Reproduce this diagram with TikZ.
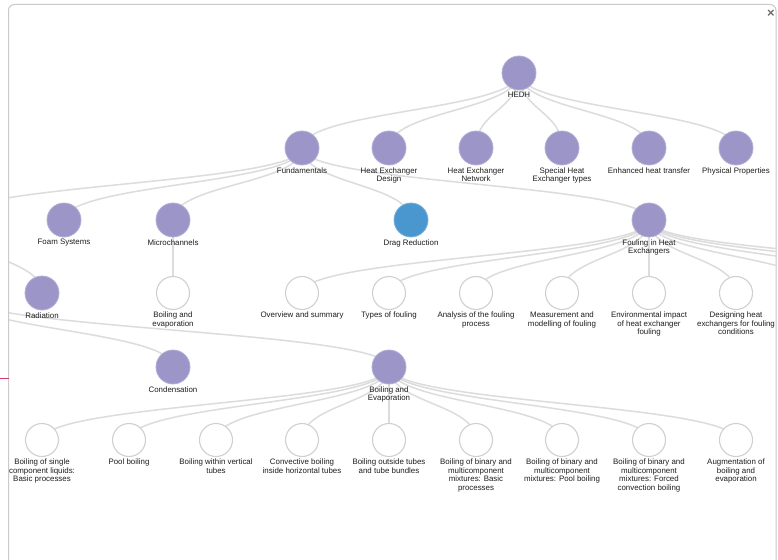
\documentclass[tikz,border=0pt]{standalone}
\usepackage{fontspec}
\setmainfont{Liberation Sans}
\usetikzlibrary{calc,backgrounds}

\definecolor{topicpurple}{HTML}{9B95C8}
\definecolor{dragblue}{HTML}{4A97D0}
\definecolor{linkgray}{HTML}{DCDCDC}
\definecolor{ringgray}{HTML}{D0D0D0}
\definecolor{framegray}{HTML}{C9C9CE}
\definecolor{labeltext}{HTML}{1E1E1E}
\definecolor{edgered}{HTML}{CF3F66}

\tikzset{
  topic/.style={circle, minimum size=34pt, inner sep=0pt, fill=topicpurple, draw=topicpurple!75!white, line width=0.8pt},
  picked/.style={topic, fill=dragblue, draw=dragblue!75!white},
  leaf/.style={circle, minimum size=33pt, inner sep=0pt, fill=white, draw=ringgray, line width=1.1pt},
  lbl/.style={font=\fontsize{7.9}{8.5}\selectfont, text=labeltext, align=center, inner sep=0.5pt},
  link/.style={draw=linkgray, line width=1.5pt,
    to path={let \p1=(\tikztostart), \p2=(\tikztotarget), \p3=($(\tikztostart)!.5!(\tikztotarget)$) in
      .. controls (\x1,\y3) and (\x2,\y3) .. (\tikztotarget)}},
}

\begin{document}
\begin{tikzpicture}[x=1pt, y=-1pt, label distance=1.2pt, every label/.style={lbl}]
\useasboundingbox (0,0) rectangle (778,559);
\clip (0,0) rectangle (778,559);

\draw[framegray, line width=1pt, rounded corners=6pt] (8.5,4.5) rectangle (776,600);
\node[text=gray!85!black, font=\bfseries\fontsize{13}{13}\selectfont, inner sep=0pt] (closex) at (771,14) {×};
\draw[edgered, line width=0.8pt] (0,378.5) -- (8.5,378.5);

\node[topic, label=below:HEDH] (hedh) at (519,73) {};

\node[topic, label=below:Fundamentals] (fund) at (302,148) {};
\node[topic, label={below:{Heat Exchanger\\Design}}] (hxdesign) at (389,148) {};
\node[topic, label={below:{Heat Exchanger\\Network}}] (hxnetwork) at (476,148) {};
\node[topic, label={below:{Special Heat\\Exchanger types}}] (special) at (562,148) {};
\node[topic, label=below:Enhanced heat transfer] (enhanced) at (649,148) {};
\node[topic, label=below:Physical Properties] (physprop) at (736,148) {};

\coordinate (hiddenfund) at (-52,220);
\node[topic, label=below:Foam Systems] (foam) at (64,220) {};
\node[topic, label=below:Microchannels] (micro) at (173,220) {};
\node[picked, label=below:Drag Reduction] (drag) at (411,220) {};
\node[topic, label={below:{Fouling in Heat\\Exchangers}}] (fouling) at (649,220) {};

\coordinate (hiddenrad) at (-45,293);
\node[topic, label=below:Radiation] (radiation) at (42,293) {};
\node[leaf, label={below:{Boiling and\\evaporation}}] (microboil) at (173,293) {};
\node[leaf, label=below:Overview and summary] (overview) at (302,293) {};
\node[leaf, label=below:Types of fouling] (types) at (389,293) {};
\node[leaf, label={below:{Analysis of the fouling\\process}}] (analysis) at (476,293) {};
\node[leaf, label={below:{Measurement and\\modelling of fouling}}] (measure) at (562,293) {};
\node[leaf, label={below:{Environmental impact\\of heat exchanger\\fouling}}] (environ) at (649,293) {};
\node[leaf, label={below:{Designing heat\\exchangers for fouling\\conditions}}] (designing) at (736,293) {};
\coordinate (foulmore1) at (823,293);
\coordinate (foulmore2) at (910,293);
\coordinate (foulmore3) at (996,293);
\coordinate (foulmore4) at (1083,293);

\node[topic, label=below:Condensation] (condens) at (173,367) {};
\node[topic, label={below:{Boiling and\\Evaporation}}] (boilevap) at (389,367) {};

\node[leaf, label={below:{Boiling of single\\component liquids:\\Basic processes}}] (single) at (42,440) {};
\node[leaf, label=below:Pool boiling] (pool) at (129,440) {};
\node[leaf, label={below:{Boiling within vertical\\tubes}}] (vertical) at (216,440) {};
\node[leaf, label={below:{Convective boiling\\inside horizontal tubes}}] (horizontal) at (302,440) {};
\node[leaf, label={below:{Boiling outside tubes\\and tube bundles}}] (outside) at (389,440) {};
\node[leaf, label={below:{Boiling of binary and\\multicomponent\\mixtures: Basic\\processes}}] (binbasic) at (476,440) {};
\node[leaf, label={below:{Boiling of binary and\\multicomponent\\mixtures: Pool boiling}}] (binpool) at (562,440) {};
\node[leaf, label={below:{Boiling of binary and\\multicomponent\\mixtures: Forced\\convection boiling}}] (binforced) at (649,440) {};
\node[leaf, label={below:{Augmentation of\\boiling and\\evaporation}}] (augment) at (736,440) {};

\begin{scope}[on background layer]
\fill[white] (0,0) rectangle (778,559);
\clip (9,5) rectangle (775.5,559);
\draw[link] (hedh.center) to (fund.center);
\draw[link] (hedh.center) to (hxdesign.center);
\draw[link] (hedh.center) to (hxnetwork.center);
\draw[link] (hedh.center) to (special.center);
\draw[link] (hedh.center) to (enhanced.center);
\draw[link] (hedh.center) to (physprop.center);
\draw[link] (fund.center) to (hiddenfund);
\draw[link] (fund.center) to (foam.center);
\draw[link] (fund.center) to (micro.center);
\draw[link] (fund.center) to (drag.center);
\draw[link] (fund.center) to (fouling.center);
\draw[link] (hiddenfund) to (radiation.center);
\draw[link] (hiddenfund) to (hiddenrad);
\draw[link] (micro.center) to (microboil.center);
\draw[link] (fouling.center) to (overview.center);
\draw[link] (fouling.center) to (types.center);
\draw[link] (fouling.center) to (analysis.center);
\draw[link] (fouling.center) to (measure.center);
\draw[link] (fouling.center) to (environ.center);
\draw[link] (fouling.center) to (designing.center);
\draw[link] (fouling.center) to (foulmore1);
\draw[link] (fouling.center) to (foulmore2);
\draw[link] (fouling.center) to (foulmore3);
\draw[link] (fouling.center) to (foulmore4);
\draw[link] (hiddenrad) to (condens.center);
\draw[link] (hiddenrad) to (boilevap.center);
\draw[link] (boilevap.center) to (single.center);
\draw[link] (boilevap.center) to (pool.center);
\draw[link] (boilevap.center) to (vertical.center);
\draw[link] (boilevap.center) to (horizontal.center);
\draw[link] (boilevap.center) to (outside.center);
\draw[link] (boilevap.center) to (binbasic.center);
\draw[link] (boilevap.center) to (binpool.center);
\draw[link] (boilevap.center) to (binforced.center);
\draw[link] (boilevap.center) to (augment.center);
\end{scope}
\end{tikzpicture}
\end{document}
